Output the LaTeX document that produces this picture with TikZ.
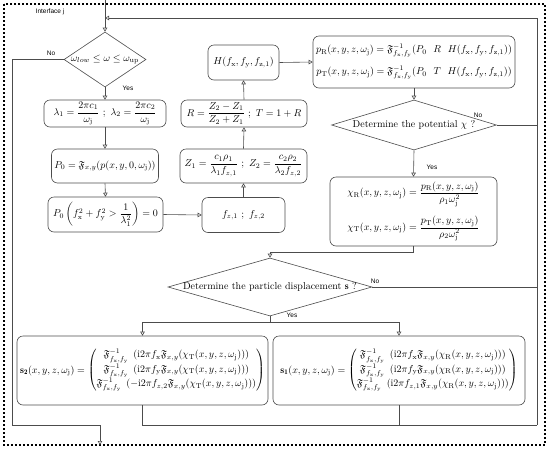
\documentclass[tikz,border=0pt]{standalone}
\usepackage{amsmath,amssymb}
\usepackage{fontspec}
\newfontfamily\labelfont{Liberation Sans}
\usetikzlibrary{shapes.geometric,arrows.meta}

\newcommand{\Fou}{\mathfrak{F}}
\newcommand{\wj}{\omega_{\mathrm{j}}}
\newcommand{\fxy}{f_{\mathrm{x}},f_{\mathrm{y}}}
\newcommand{\pos}{(x,y,z,\wj)}

\begin{document}
\begin{tikzpicture}[x=1pt, y=-1pt,
    box/.style={draw=black!70, rounded corners=6pt, inner sep=0pt, line width=0.6pt},
    decision/.style={draw=black!70, diamond, inner sep=0pt, line width=0.6pt},
    flow/.style={draw=black!70, line width=0.6pt, -{Triangle[open,length=4pt,width=4.5pt]}},
    link/.style={draw=black!70, line width=0.6pt},
    tag/.style={font=\labelfont\fontsize{6.5}{7}\selectfont, inner sep=1pt}]

    \useasboundingbox (0,0) rectangle (550,451);

    % Frame
    \draw[line width=2pt, dotted] (4,4) rectangle (545,445);
    \node[tag] (ifc) at (50,12) {Interface j};

    % Left column
    \node[decision, minimum width=82pt, minimum height=55pt] (band) at (105,59.5)
        {\makebox[0pt]{$\omega_{low} \leq \omega \leq \omega_{\mathrm{up}}$}};
    \node[box, minimum width=122pt, minimum height=27pt] (lam) at (105,113.5)
        {$\lambda_1 = \dfrac{2\pi c_1}{\wj}\ ;\ \lambda_2 = \dfrac{2\pi c_2}{\wj}$};
    \node[box, minimum width=107pt, minimum height=34pt] (fourier) at (105,166)
        {$P_0 = \Fou_{x,y}(p(x,y,0,\wj))$};
    \node[box, minimum width=115pt, minimum height=35pt] (cutoff) at (105.5,214.5)
        {$P_0\left(f_{\mathrm{x}}^2 + f_{\mathrm{y}}^2 > \dfrac{1}{\lambda_1^2}\right) = 0$};

    % Middle column
    \node[box, minimum width=83pt, minimum height=35pt] (fz) at (243.5,215)
        {$f_{z,1}\ ;\ f_{z,2}$};
    \node[box, minimum width=127pt, minimum height=34pt] (imp) at (243.5,166)
        {$Z_1 = \dfrac{c_1\rho_1}{\lambda_1 f_{z,1}}\ ;\ Z_2 = \dfrac{c_2\rho_2}{\lambda_2 f_{z,2}}$};
    \node[box, minimum width=126pt, minimum height=27pt] (refl) at (244,113.5)
        {$R = \dfrac{Z_2 - Z_1}{Z_2 + Z_1}\ ;\ T = 1 + R$};
    \node[box, minimum width=71pt, minimum height=35pt] (prop) at (243.5,62.5)
        {$H(\fxy,f_{\mathrm{z},1})$};

    % Right column
    \node[box, minimum width=202pt, minimum height=52pt, align=center] (press) at (414,62)
        {$p_{\mathrm{R}}\pos = \Fou^{-1}_{\fxy}(P_0\ \ R\ \ H(\fxy,f_{\mathrm{z},1}))$\\[7pt]
         $p_{\mathrm{T}}\pos = \Fou^{-1}_{\fxy}(P_0\ \ T\ \ H(\fxy,f_{\mathrm{z},1}))$};
    \node[decision, minimum width=165pt, minimum height=50pt] (potq) at (414,125)
        {\makebox[0pt]{Determine the potential $\chi$ ?}};
    \node[box, minimum width=167pt, minimum height=69pt, align=center] (pot) at (413.5,211.5)
        {$\chi_{\mathrm{R}}\pos = \dfrac{p_{\mathrm{R}}\pos}{\rho_1\wj^2}$\\[8pt]
         $\chi_{\mathrm{T}}\pos = \dfrac{p_{\mathrm{T}}\pos}{\rho_2\wj^2}$};

    % Displacement
    \node[decision, minimum width=204pt, minimum height=58pt] (dispq) at (270,287)
        {\makebox[0pt]{Determine the particle displacement $\mathbf{s}$ ?}};
    \node[box, minimum width=251pt, minimum height=69pt] (disp2) at (142.5,370.5)
        {$\mathbf{s_2}\pos = \begin{pmatrix}
            \Fou^{-1}_{\fxy}\ \left(\mathrm{i}2\pi f_{\mathrm{x}}\Fou_{x,y}(\chi_{\mathrm{T}}\pos)\right)\\[2pt]
            \Fou^{-1}_{\fxy}\ \left(\mathrm{i}2\pi f_{\mathrm{y}}\Fou_{x,y}(\chi_{\mathrm{T}}\pos)\right)\\[2pt]
            \Fou^{-1}_{\fxy}\ \left(-\mathrm{i}2\pi f_{z,2}\Fou_{x,y}(\chi_{\mathrm{T}}\pos)\right)
        \end{pmatrix}$};
    \node[box, minimum width=252pt, minimum height=69pt] (disp1) at (399,370.5)
        {$\mathbf{s_1}\pos = \begin{pmatrix}
            \Fou^{-1}_{\fxy}\ \left(\mathrm{i}2\pi f_{\mathrm{x}}\Fou_{x,y}(\chi_{\mathrm{R}}\pos)\right)\\[2pt]
            \Fou^{-1}_{\fxy}\ \left(\mathrm{i}2\pi f_{\mathrm{y}}\Fou_{x,y}(\chi_{\mathrm{R}}\pos)\right)\\[2pt]
            \Fou^{-1}_{\fxy}\ \left(\mathrm{i}2\pi f_{z,1}\Fou_{x,y}(\chi_{\mathrm{R}}\pos)\right)
        \end{pmatrix}$};

    % Loop points
    \coordinate (top) at (105,0);
    \coordinate (ret) at (537,18);
    \coordinate (retin) at (105,18);
    \coordinate (join) at (537,425);
    \coordinate (noleft) at (12,425);
    \coordinate (exit) at (100,445);

    % Connectors
    \draw[flow] (top) -- (band.north);
    \draw[flow] (band.south) -- (lam.north);
    \draw[flow] (lam.south) -- (fourier.north);
    \draw[flow] (fourier.south) -- (cutoff.north);
    \draw[flow] (cutoff.east) -- (fz.west);
    \draw[flow] (fz.north) -- (imp.south);
    \draw[flow] (imp.north) -- (refl.south);
    \draw[flow] (refl.north) -- (prop.south);
    \draw[flow] (prop.east) -- (press.west);
    \draw[flow] (press.south) -- (potq.north);
    \draw[flow] (potq.south) -- (pot.north);
    \draw[flow] (pot.south) -- ++(0,6) -| (dispq.north);
    \draw[flow] (dispq.south) -- ++(0,6) -| (disp2.north);
    \draw[flow] (dispq.south) -- ++(0,6) -| (disp1.north);
    \draw[link] (disp2.south) |- (join);
    \draw[link] (disp1.south) -- (disp1.south |- join);
    \draw[link] (potq.east) -- (potq.east -| join);
    \draw[link] (dispq.east) -- (dispq.east -| join);
    \draw[flow] (join) -- (ret) -- (retin);
    \draw[flow] (band.west) -| (noleft) -| (exit);

    % Labels
    \node[tag] (no1) at (51,53) {No};
    \node[tag] (yes1) at (128,88) {Yes};
    \node[tag] (no2) at (478,115) {No};
    \node[tag] (yes2) at (432,167) {Yes};
    \node[tag] (no3) at (375,281) {No};
    \node[tag] (yes3) at (292,315) {Yes};
\end{tikzpicture}
\end{document}
